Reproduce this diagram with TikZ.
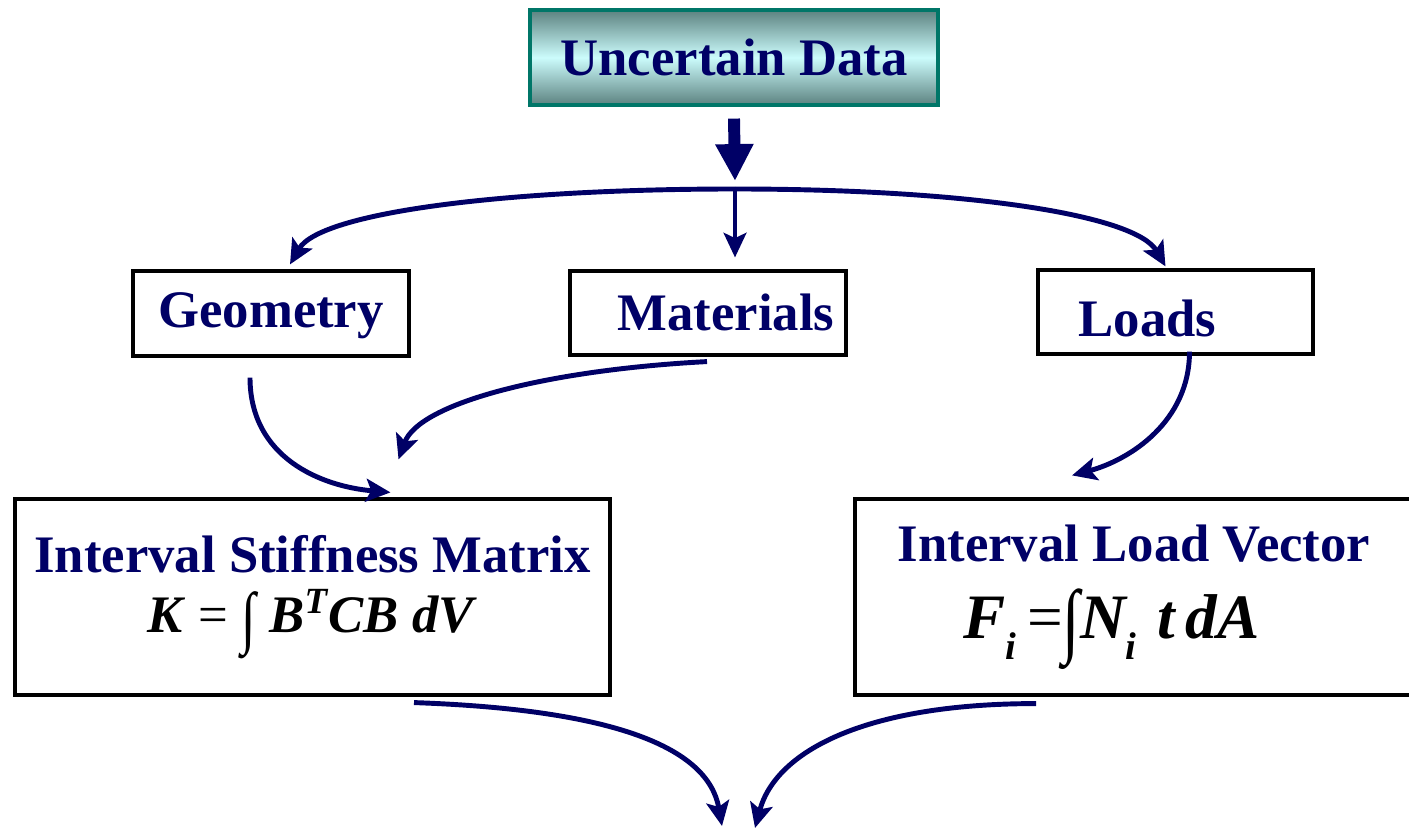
\documentclass[tikz,border=0pt]{standalone}
\usepackage{graphicx}
\usepackage{fontspec}
\setmainfont{Liberation Serif}
\usetikzlibrary{arrows.meta,positioning}
\definecolor{navy}{RGB}{0,0,102}
\definecolor{tealedge}{RGB}{0,118,104}
\definecolor{tealdark}{RGB}{92,130,128}
\definecolor{teallight}{RGB}{204,252,252}

\begin{document}
\begin{tikzpicture}[
    box/.style={draw=black, line width=0.9pt, inner sep=0pt, text=navy, align=center,
      font=\bfseries\fontsize{15}{18}\selectfont},
    flow/.style={navy, line width=1.4pt, -{Stealth[length=7pt,width=6.5pt,inset=1.5pt]}},
    fatarrow/.style={navy, line width=3.4pt, -{Triangle[length=10.5pt,width=10.2pt]}}]
    \useasboundingbox (0,0) rectangle (14.09,-8.29);
    % Uncertain data
    \node[box, draw=tealedge, top color=tealdark, bottom color=tealdark, middle color=teallight,
      minimum width=4.08cm, minimum height=0.95cm] (data) at (7.34,-0.575) {Uncertain Data};
    \coordinate (fork) at (7.35,-1.89);
    \draw[fatarrow] ([yshift=-0.12cm]data.south) -- ([yshift=0.08cm]fork);
    % Geometry, materials, loads
    \node[box, text height=10.5pt, text depth=2.3pt, minimum width=2.76cm, minimum height=0.85cm] (geo) at (2.71,-3.135) {Geometry};
    \node[box, text height=11pt, text depth=1.3pt, minimum width=2.76cm, minimum height=0.84cm] (mat) at (7.08,-3.13) {\hspace*{0.36cm}Materials};
    \node[box, text height=14pt, text depth=0.3pt, minimum width=2.75cm, minimum height=0.84cm] (loads) at (11.755,-3.12) {Loads\hspace*{0.56cm}};
    \draw[flow] (fork) to[out=180, in=60, out distance=2.3cm, in distance=0.6cm] ([xshift=0.19cm,yshift=0.05cm]geo.north);
    \draw[flow] (fork) to[out=0, in=120, out distance=2.3cm, in distance=0.6cm] ([xshift=-0.1cm,yshift=0.02cm]loads.north);
    \draw[flow, line width=1.1pt, shorten >=0.12cm] (fork) -- (fork |- mat.north);
    % Interval matrix and vector
    \node[box, minimum width=5.95cm, minimum height=1.96cm] (ism) at (3.125,-5.97)
      {Interval Stiffness Matrix\\[-1pt]
       {\color{black}\textbf{\textit{K}} {\normalfont =} \raisebox{-0.35ex}{\normalfont\scalebox{1}[1.3]{∫}} \textbf{\textit{B\textsuperscript{T}CB dV}}}};
    \node[box, align=left, minimum width=5.58cm, minimum height=1.96cm] (ilv) at (11.34,-5.97)
      {Interval Load Vector\\[4pt]
       \hspace*{0.66cm}{\color{black}\fontsize{18}{21}\selectfont\textbf{\textit{F\raisebox{-6pt}{\fontsize{11}{11}\selectfont i}}}{\normalfont\,=\raisebox{-0.3ex}{\scalebox{1}[1.3]{∫}}}\textbf{\textit{N\raisebox{-6pt}{\fontsize{11}{11}\selectfont i}\,\,t\,dA}}}};
    \draw[flow] ([xshift=-0.21cm,yshift=-0.2cm]geo.south) to[out=-90, in=175, out distance=0.8cm, in distance=0.7cm] ([xshift=0.78cm,yshift=0.05cm]ism.north);
    \draw[flow] ([xshift=-0.01cm,yshift=-0.05cm]mat.south) to[out=183, in=70, out distance=1.6cm, in distance=0.6cm] ([xshift=0.86cm,yshift=0.38cm]ism.north);
    \draw[flow] ([xshift=0.14cm,yshift=0.04cm]loads.south) to[out=-90, in=15, out distance=0.7cm, in distance=0.6cm] ([xshift=-0.62cm,yshift=0.22cm]ilv.north);
    % Towards the solution
    \coordinate (sinkL) at (7.22,-8.26);
    \coordinate (sinkR) at (7.55,-8.28);
    \draw[flow] ([xshift=1.015cm,yshift=-0.06cm]ism.south) to[out=-2, in=100, out distance=2.0cm, in distance=0.8cm] (sinkL);
    \draw[flow] ([xshift=-0.98cm,yshift=-0.07cm]ilv.south) to[out=180, in=75, out distance=1.7cm, in distance=0.8cm] (sinkR);
\end{tikzpicture}
\end{document}
